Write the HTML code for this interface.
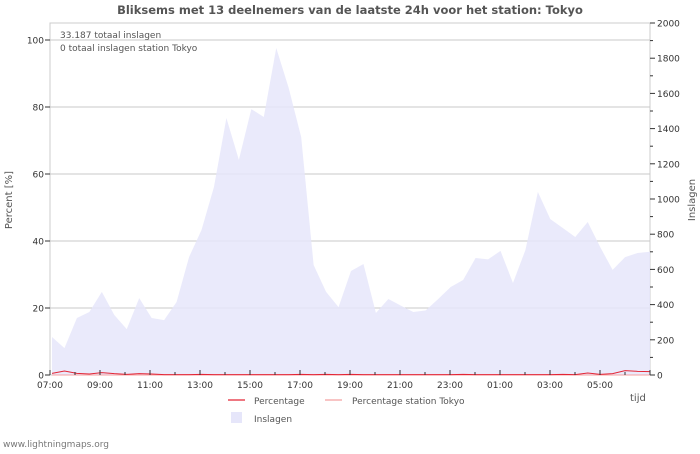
<!DOCTYPE html>
<html><head><meta charset="utf-8"><style>
body{margin:0;background:#fff;width:700px;height:450px;overflow:hidden;font-family:"DejaVu Sans","Liberation Sans",sans-serif}
svg text{font-family:"DejaVu Sans","Liberation Sans",sans-serif}
</style></head><body>
<svg id="chart" width="700" height="450" viewBox="0 0 700 450" xmlns="http://www.w3.org/2000/svg">
<text x="350" y="14" text-anchor="middle" font-size="11.5" font-weight="bold" fill="#555">Bliksems met 13 deelnemers van de laatste 24h voor het station: Tokyo</text>
<g id="grid"></g>
<g id="area"></g>
<g id="lines"></g>
<g id="axes"></g>
<text x="60" y="38" font-size="9" fill="#555">33.187 totaal inslagen</text>
<text x="60" y="51" font-size="9" fill="#555">0 totaal inslagen station Tokyo</text>
<text transform="translate(12,200) rotate(-90)" text-anchor="middle" font-size="10" fill="#555">Percent   [%]</text>
<text transform="translate(695,200) rotate(-90)" text-anchor="middle" font-size="10" fill="#555">Inslagen</text>
<text x="630" y="401" font-size="10" fill="#555">tijd</text>
<g><line x1="228" y1="400" x2="245" y2="400" stroke="#e32636" stroke-width="1.2"/><text x="254" y="404" font-size="9" fill="#555">Percentage</text></g>
<g><line x1="325" y1="400" x2="342" y2="400" stroke="#f4a0a0" stroke-width="1.2"/><text x="352" y="404" font-size="9" fill="#555">Percentage station Tokyo</text></g>
<g><rect x="231" y="412" width="11" height="11" fill="#e6e6fa"/><text x="254" y="422" font-size="9" fill="#555">Inslagen</text></g>
<text x="3" y="447" font-size="9" fill="#777">www.lightningmaps.org</text>
</svg>
<script>
const strikes=[216,153,324,358,472,341,261,437,324,312,415,670,824,1068,1460,1222,1511,1466,1858,1631,1352,625,472,386,591,631,352,432,394,358,367,432,500,540,665,657,705,523,710,1040,886,835,784,869,727,597,670,693,700];
const percentage=[0.5,1.2,0.5,0.3,0.7,0.4,0.2,0.4,0.3,0.1,0.1,0.1,0.2,0.1,0.1,0.1,0.1,0.1,0.1,0.1,0.2,0.1,0.2,0.1,0.2,0.1,0.1,0.1,0.1,0.1,0.1,0.1,0.1,0.2,0.1,0.1,0.1,0.1,0.1,0.1,0.1,0.2,0.1,0.6,0.2,0.4,1.3,1.1,1.0];
const stationPct=[0,0,0,0,0,0,0,0,0,0,0,0,0,0,0,0,0,0,0,0,0,0,0,0,0,0,0,0,0,0,0,0,0,0,0,0,0,0,0,0,0,0,0,0,0,0,0,0,0];
const leftTicks=[0,20,40,60,80,100];
const rightTicks=[0,200,400,600,800,1000,1200,1400,1600,1800,2000];
const timeLabels=["07:00","09:00","11:00","13:00","15:00","17:00","19:00","21:00","23:00","01:00","03:00","05:00"];
const NS="http://www.w3.org/2000/svg";
const X0=50,X1=650,YB=375;
const xAt=i=>Math.min(X1,52+i*(X1-52)/(strikes.length-1));
const yL=v=>YB-v*3.35;
const yR=v=>YB-v*(YB-23)/2000;
function mk(tag,attrs,parent){const e=document.createElementNS(NS,tag);for(const k in attrs)e.setAttribute(k,attrs[k]);parent.appendChild(e);return e;}
const grid=document.getElementById('grid'),axes=document.getElementById('axes');
mk('rect',{x:X0,y:23,width:X1-X0,height:YB-23,fill:'none',stroke:'#ccc'},grid);
leftTicks.forEach(t=>{
  if(t>0){const g=mk('line',{x1:X0,x2:X1,y1:yL(t),y2:yL(t),stroke:'#c8c8c8'},grid);
  
  }
  mk('line',{x1:X0-5,x2:X0,y1:yL(t),y2:yL(t),stroke:'#333'},axes);
  const tx=mk('text',{x:X0-6,y:yL(t)+3.5,'text-anchor':'end','font-size':'9',fill:'#333'},axes);tx.textContent=t;
  
  
});
for(let v=0;v<=2000;v+=100){mk('line',{x1:X1,x2:X1+(v%200?3:5),y1:yR(v),y2:yR(v),stroke:'#333'},axes);}
rightTicks.forEach(t=>{const tx=mk('text',{x:X1+7,y:yR(t)+3.5,'font-size':'9',fill:'#333'},axes);tx.textContent=t;
  
  });
for(let h=0;h<=24;h++){const x=X0+h*25;mk('line',{x1:x,x2:x,y1:YB,y2:YB-(h%2?3:5),stroke:'#333'},axes);}
timeLabels.forEach((l,i)=>{const tx=mk('text',{x:X0+i*50,y:YB+13,'text-anchor':'middle','font-size':'9',fill:'#333'},axes);tx.textContent=l;
  
  });
let d='M'+xAt(0)+','+YB;strikes.forEach((v,i)=>d+=' L'+xAt(i)+','+yR(v));d+=' L'+X1+','+YB+' Z';
const a=mk('path',{d:d,fill:'#e6e6fa',opacity:'0.85'},document.getElementById('area'));


const lines=document.getElementById('lines');
const p2=mk('polyline',{points:stationPct.map((v,i)=>xAt(i)+','+yL(v)).join(' '),fill:'none',stroke:'#f4a0a0','stroke-width':'1'},lines);


const p1=mk('polyline',{points:percentage.map((v,i)=>xAt(i)+','+yL(v)).join(' '),fill:'none',stroke:'#e32636','stroke-width':'1'},lines);


</script>
</body></html>
